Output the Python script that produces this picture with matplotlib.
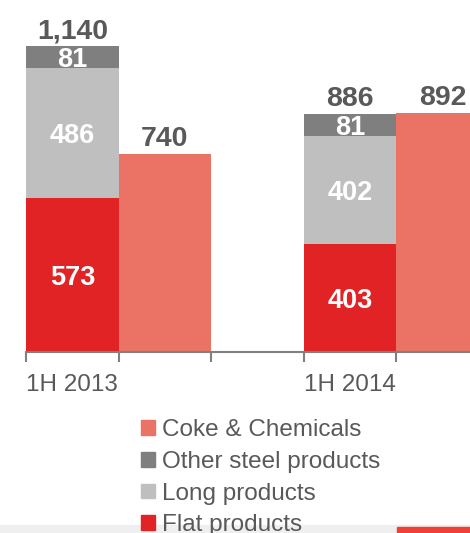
import numpy as np
import matplotlib.pyplot as plt
from matplotlib.patches import Patch, Rectangle

plt.rcParams['font.family'] = ['Liberation Sans', 'DejaVu Sans']

# data
periods = ['1H 2013', '1H 2014']
flat = [573, 403]
long_ = [486, 402]
other = [81, 81]
totals = [1140, 886]
coke = [740, 892]

c_flat = '#e12326'
c_long = '#bfbfbf'
c_other = '#7f7f7f'
c_coke = '#ea7365'
c_text = '#595959'

fig = plt.figure(figsize=(4.7, 5.33), dpi=100)
# axes runs past the right edge, like the cropped slide
ax = fig.add_axes([26 / 470, 181 / 533, 463 / 470, 352 / 533])

x_steel = np.array([0, 3])
x_coke = x_steel + 1

ax.bar(x_steel, flat, width=1, color=c_flat)
ax.bar(x_steel, long_, width=1, bottom=flat, color=c_long)
bottom_other = np.array(flat) + np.array(long_)
ax.bar(x_steel, other, width=1, bottom=bottom_other, color=c_other)
ax.bar(x_coke, coke, width=1, color=c_coke)

lbl = dict(ha='center', va='center_baseline', color='white', fontsize=19.5,
           fontweight='bold')
for i, x in enumerate(x_steel):
    ax.text(x, flat[i] / 2, str(flat[i]), **lbl)
    ax.text(x, flat[i] + long_[i] / 2, str(long_[i]), **lbl)
    ax.text(x, bottom_other[i] + other[i] / 2, str(other[i]), **lbl)
    ax.text(x, totals[i] + 31, f'{totals[i]:,}', ha='center', va='baseline',
            color=c_text, fontsize=20.5, fontweight='bold')
    ax.text(x_coke[i], coke[i] + 28, f'{coke[i]:,}', ha='center', va='baseline',
            color=c_text, fontsize=20.5, fontweight='bold')

ax.set_xlim(-0.5, 4.5)
ax.set_ylim(0, 1313)
ax.set_xticks([-0.5, 0.5, 1.5, 2.5, 3.5, 4.5])
ax.set_xticklabels([])
ax.set_xticks(x_steel, minor=True)
ax.set_xticklabels(periods, minor=True)
ax.tick_params(axis='x', which='major', length=7, width=1.5, color='#808080')
ax.tick_params(axis='x', which='minor', length=0, pad=16, labelsize=17.5,
               labelcolor=c_text)
ax.set_yticks([])
for s in ['top', 'right', 'left']:
    ax.spines[s].set_visible(False)
ax.spines['bottom'].set_color('#808080')
ax.spines['bottom'].set_linewidth(1.5)

# slide footer strip (behind the legend text)
fig.patches.append(Rectangle((0, 0), 1, 8 / 533, transform=fig.transFigure,
                             color='#efefef', zorder=1))
fig.patches.append(Rectangle((397 / 470, 0), 73 / 470, 6 / 533, transform=fig.transFigure,
                             color='#ee4036', zorder=2))

handles = [Patch(color=c_coke), Patch(color=c_other), Patch(color=c_long), Patch(color=c_flat)]
names = ['Coke & Chemicals', 'Other steel products', 'Long products', 'Flat products']
leg = fig.legend(handles, names, loc='upper left', bbox_to_anchor=(129 / 470, 1 - 407 / 533),
                 frameon=False, fontsize=17.5, labelcolor=c_text, handlelength=0.55,
                 handleheight=0.55, handletextpad=0.3, labelspacing=0.40, borderpad=0)
leg.set_zorder(5)

fig.savefig('out.png', dpi=100)
